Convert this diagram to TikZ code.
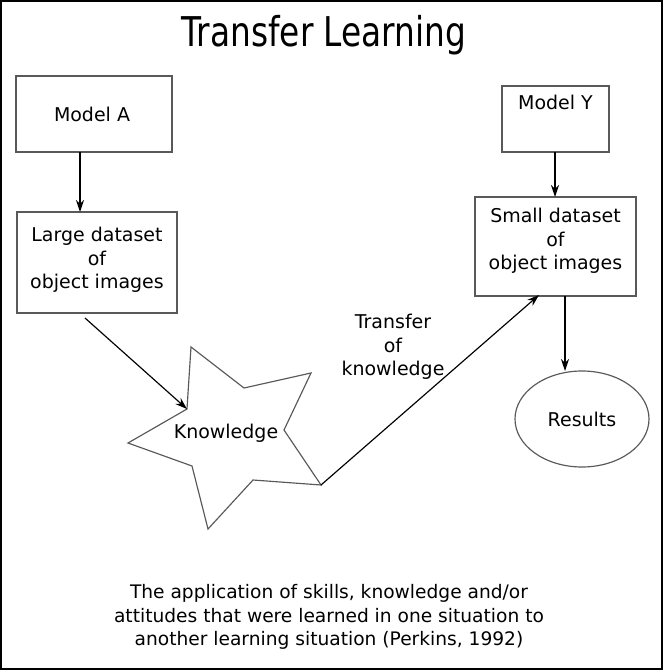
\documentclass[tikz,border=0pt]{standalone}
\usepackage{fontspec}
\setmainfont{DejaVu Sans}
\newfontfamily\titlefont[FakeStretch=0.8]{DejaVu Sans}
\usetikzlibrary{arrows.meta,shapes.geometric}

\begin{document}
\begin{tikzpicture}[x=0.3mm, y=-0.3mm, >={Stealth[length=3.6mm,width=2.4mm]},
    box/.style={draw=black!65, line width=0.5mm, rectangle, inner sep=0pt, outer sep=0pt},
    txt/.style={font=\fontsize{16.2}{20}\selectfont, align=center, inner sep=0pt},
    link/.style={->, line width=0.35mm}]
    \useasboundingbox (0,0) rectangle (663,670);
    % 外框
    \draw[line width=0.6mm] (1,1) rectangle (662,669);

    % 标题
    \node[font=\titlefont\fontsize{35}{40}\selectfont] (title) at (324,35) {Transfer Learning};

    % 左侧
    \node[box, minimum width=46.8mm, minimum height=22.8mm] (modela) at (94,114) {};
    \node[box, minimum width=48mm, minimum height=30.3mm] (large) at (97,262.5) {};
    \node[txt] (modelalbl) at (modela.center) [xshift=-0.6mm] {Model A};
    \node[txt] (largelbl) at (large.center) [yshift=0.8mm] {Large dataset\\of\\object images};

    % 右侧
    \node[box, minimum width=32.1mm, minimum height=19.8mm] (modely) at (555.5,119) {};
    \node[box, minimum width=48.3mm, minimum height=29.7mm] (small) at (555.5,246.5) {};
    \node[draw=black!65, line width=0.35mm, ellipse, minimum width=40.2mm, minimum height=28.8mm,
          inner sep=0pt, outer sep=0pt] (results) at (582,419) {};
    \node[txt] (modelylbl) at (modely.center) [yshift=5mm] {Model Y};
    \node[txt] (smalllbl) at (small.center) [yshift=1.7mm] {Small dataset\\of\\object images};
    \node[txt] (resultslbl) at (results.center) {Results};

    % 星形
    \coordinate (kin) at (187,409);
    \coordinate (kout) at (321,485);
    \draw[black!65, line width=0.35mm] (191,347) -- (244,388) -- (311,373) -- (284,430) -- (kout)
        -- (253,480) -- (208,529) -- (192,466) -- (128,443) -- (kin) -- cycle;
    \node[txt] (know) at (226,433) {Knowledge};

    % 箭头
    \coordinate (ain) at (80,152);
    \coordinate (yin) at (555,152);
    \coordinate (sout) at (565,296);
    \coordinate (sin) at (539,295);
    \draw[link] (ain) -- (large.north -| ain);
    \draw[link] (yin) -- (small.north -| yin);
    \draw[link] (sout) -- (results.north -| sout);
    \draw[link] (85,318) -- (kin);
    \draw[link] (kout) -- (sin);
    \node[txt] (translbl) at (393,347) {Transfer\\of\\knowledge};

    % 说明
    \node[txt, font=\fontsize{15.9}{20}\selectfont] (caption) at (329,617)
        {The application of skills, knowledge and/or\\attitudes that were learned in one situation to\\another learning situation (Perkins, 1992)};
\end{tikzpicture}
\end{document}
